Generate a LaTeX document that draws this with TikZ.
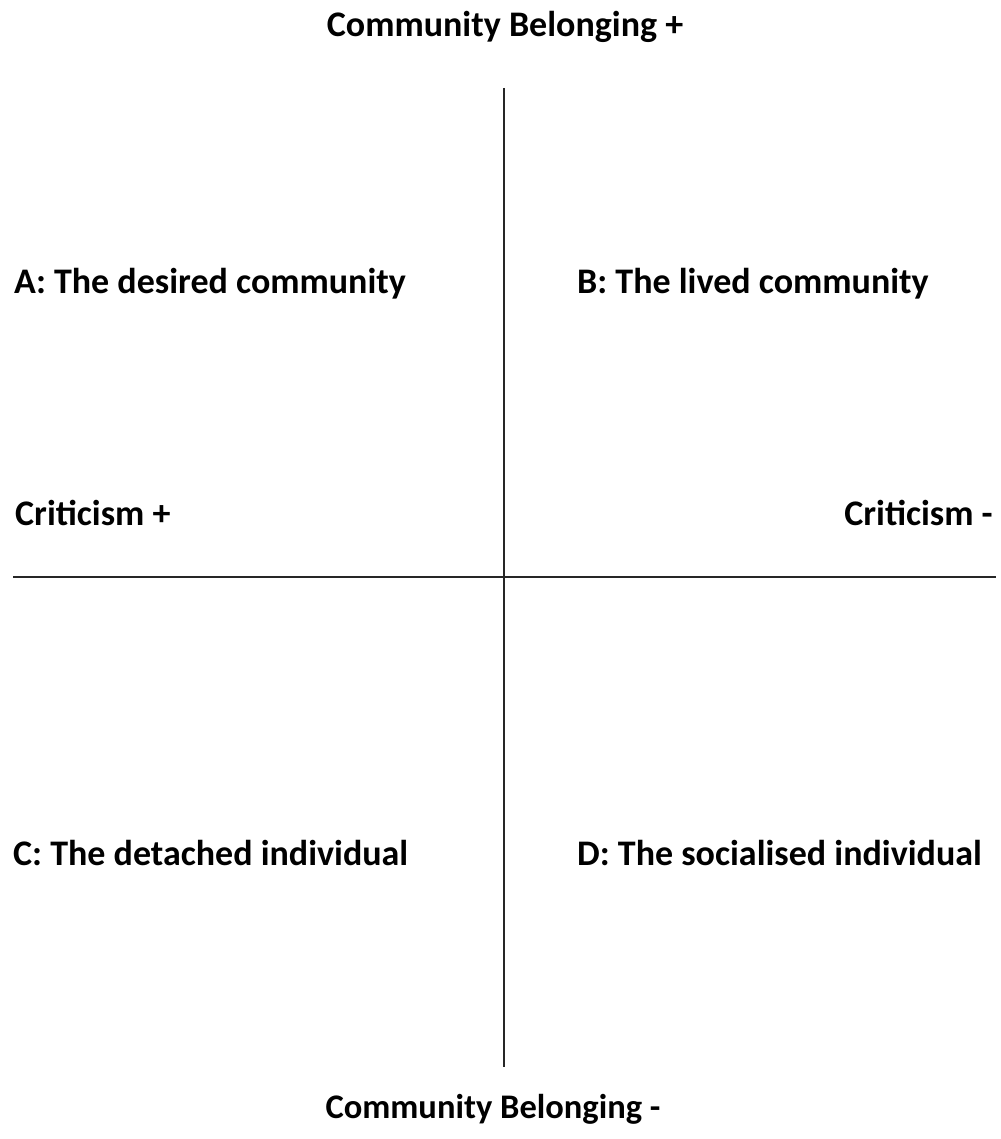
\documentclass[tikz,border=0pt]{standalone}
\usepackage{fontspec}
\setmainfont{Carlito}
\begin{document}
\begin{tikzpicture}[x=1pt,y=1pt,
  lbl/.style={inner sep=0pt,font=\fontsize{36}{42}\selectfont\bfseries},
  axis/.style={line width=2pt,draw=black!85}]
\useasboundingbox (0,0) rectangle (1000,-1139);
\coordinate (top) at (504,-88);
\coordinate (bot) at (504,-1067);
\coordinate (lft) at (13,-577);
\coordinate (rgt) at (996,-577);
\draw[axis] (top) -- (bot);
\draw[axis] (lft) -- (rgt);
\node[lbl,anchor=base] (cbp) at (505,-37) {Community Belonging +};
\node[lbl,anchor=base,font=\fontsize{34.5}{40}\selectfont\bfseries] (cbm) at (493,-1118) {Community Belonging -};
\node[lbl,anchor=base west] (a) at (14,-294) {A: The desired community};
\node[lbl,anchor=base west] (b) at (577,-294) {B: The lived community};
\node[lbl,anchor=base west] (cp) at (15,-525) {Criticism +};
\node[lbl,anchor=base east] (cm) at (993,-525) {Criticism -};
\node[lbl,anchor=base west] (c) at (13,-865) {C: The detached individual};
\node[lbl,anchor=base west] (d) at (577,-865) {D: The socialised individual};
\end{tikzpicture}
\end{document}
